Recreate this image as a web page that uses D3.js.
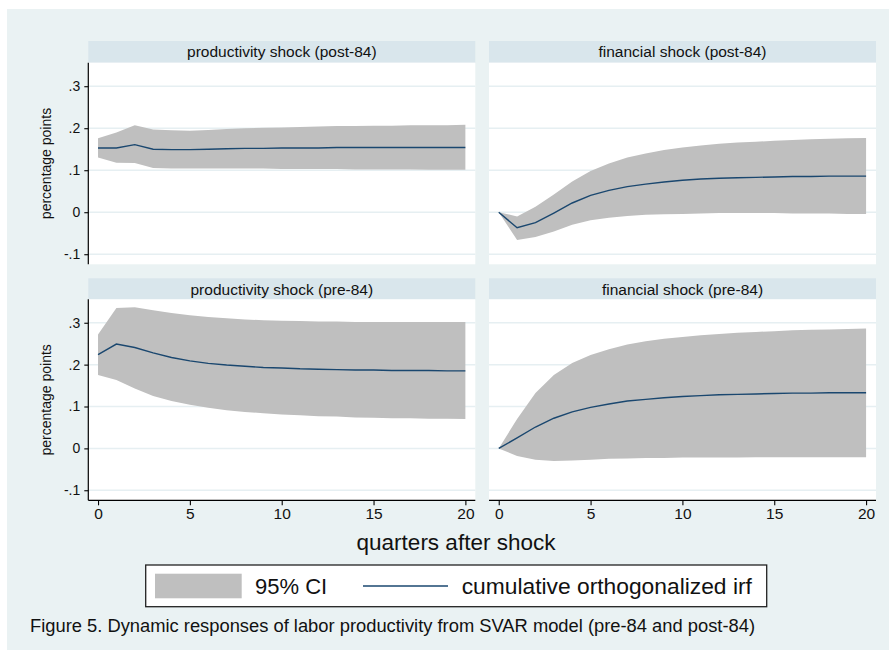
<!DOCTYPE html>
<html>
<head>
<meta charset="utf-8">
<script src="https://cdn.jsdelivr.net/npm/d3@7"></script>
<style>
  html, body { margin: 0; padding: 0; background: #ffffff; }
  svg { display: block; font-family: "Liberation Sans", Arial, sans-serif; }
</style>
</head>
<body>
<svg id="chart" width="896" height="658"></svg>
<script>
// ---------------- DATA ----------------
const quarters = [0,1,2,3,4,5,6,7,8,9,10,11,12,13,14,15,16,17,18,19,20];

const panelTitles = [
  "productivity shock (post-84)",
  "financial shock (post-84)",
  "productivity shock (pre-84)",
  "financial shock (pre-84)"
];

const prodPostIrf   = [0.153,0.153,0.161,0.150,0.149,0.149,0.150,0.151,0.152,0.152,0.153,0.153,0.153,0.154,0.154,0.154,0.154,0.154,0.154,0.154,0.154];
const prodPostUpper = [0.176,0.190,0.207,0.197,0.195,0.194,0.196,0.198,0.200,0.201,0.202,0.203,0.204,0.205,0.205,0.206,0.206,0.207,0.207,0.207,0.208];
const prodPostLower = [0.130,0.118,0.117,0.105,0.104,0.104,0.104,0.104,0.104,0.104,0.103,0.103,0.103,0.103,0.102,0.102,0.102,0.102,0.101,0.101,0.101];

const finPostIrf   = [0,-0.037,-0.025,-0.002,0.022,0.040,0.052,0.061,0.067,0.072,0.076,0.079,0.081,0.082,0.083,0.084,0.085,0.085,0.086,0.086,0.086];
const finPostUpper = [0,-0.010,0.013,0.042,0.073,0.098,0.116,0.130,0.140,0.148,0.154,0.159,0.163,0.166,0.168,0.170,0.172,0.174,0.175,0.176,0.177];
const finPostLower = [0,-0.066,-0.059,-0.046,-0.030,-0.019,-0.013,-0.009,-0.006,-0.005,-0.004,-0.003,-0.002,-0.002,-0.002,-0.002,-0.003,-0.003,-0.003,-0.004,-0.004];

const prodPreIrf   = [0.224,0.249,0.241,0.228,0.217,0.209,0.203,0.199,0.196,0.193,0.192,0.190,0.189,0.188,0.187,0.187,0.186,0.186,0.186,0.185,0.185];
const prodPreUpper = [0.272,0.335,0.337,0.330,0.323,0.318,0.314,0.311,0.308,0.306,0.305,0.304,0.303,0.303,0.302,0.302,0.302,0.302,0.302,0.302,0.302];
const prodPreLower = [0.175,0.163,0.143,0.125,0.113,0.104,0.097,0.091,0.087,0.084,0.081,0.079,0.077,0.076,0.074,0.073,0.072,0.072,0.071,0.071,0.070];

const finPreIrf   = [0,0.025,0.051,0.072,0.087,0.098,0.106,0.113,0.117,0.121,0.124,0.126,0.128,0.129,0.130,0.131,0.132,0.132,0.133,0.133,0.133];
const finPreUpper = [0,0.070,0.132,0.175,0.204,0.223,0.237,0.248,0.256,0.262,0.266,0.270,0.273,0.276,0.278,0.280,0.282,0.283,0.284,0.285,0.286];
const finPreLower = [0,-0.018,-0.027,-0.030,-0.029,-0.027,-0.025,-0.024,-0.023,-0.023,-0.022,-0.022,-0.022,-0.022,-0.021,-0.021,-0.021,-0.021,-0.021,-0.021,-0.021];

const yTickValues = [-0.1, 0, 0.1, 0.2, 0.3];
const yTickLabels = ["-.1", "0", ".1", ".2", ".3"];
const xTickValues = [0, 5, 10, 15, 20];

const xAxisTitle = "quarters after shock";
const yAxisTitle = "percentage points";
const legendLabels = ["95% CI", "cumulative orthogonalized irf"];
const caption = "Figure 5. Dynamic responses of labor productivity from SVAR model (pre-84 and post-84)";

// ---------------- STYLE / LAYOUT ----------------
const C = {
  bg: "#eaf2f3",
  strip: "#d9e6ec",
  grid: "#e6eff2",
  ci: "#bfbfbf",
  line: "#1a476f",
  text: "#000000"
};

const colX = [88.3, 489];
const colW = 387;
const rows = [
  { stripTop: 41,    plotTop: 62.7,  plotBottom: 264.3 },
  { stripTop: 278.3, plotTop: 299.3, plotBottom: 500.3 }
];

const panels = [
  { title: panelTitles[0], irf: prodPostIrf, up: prodPostUpper, lo: prodPostLower, col: 0, row: 0 },
  { title: panelTitles[1], irf: finPostIrf,  up: finPostUpper,  lo: finPostLower,  col: 1, row: 0 },
  { title: panelTitles[2], irf: prodPreIrf,  up: prodPreUpper,  lo: prodPreLower,  col: 0, row: 1 },
  { title: panelTitles[3], irf: finPreIrf,   up: finPreUpper,   lo: finPreLower,   col: 1, row: 1 }
];

const svg = d3.select("#chart");

// outer background
svg.append("rect").attr("x", 7).attr("y", 9).attr("width", 882).attr("height", 641).attr("fill", C.bg);

panels.forEach(p => {
  const x0 = colX[p.col];
  const r = rows[p.row];
  const g = svg.append("g");

  const x = d3.scaleLinear().domain([-0.53, 20.54]).range([x0, x0 + colW]);
  const y = d3.scaleLinear().domain([-0.124, 0.356]).range([r.plotBottom, r.plotTop]);

  // strip
  g.append("rect").attr("x", x0).attr("y", r.stripTop).attr("width", colW)
    .attr("height", r.plotTop - r.stripTop).attr("fill", C.strip);
  g.append("text").attr("x", x0 + colW / 2).attr("y", r.stripTop + 16.2)
    .attr("text-anchor", "middle").attr("font-size", 15.5).attr("fill", "#111")
    .text(p.title);

  // plot area
  g.append("rect").attr("x", x0).attr("y", r.plotTop).attr("width", colW)
    .attr("height", r.plotBottom - r.plotTop).attr("fill", "#ffffff");

  // gridlines
  g.selectAll(".grid").data(yTickValues).enter().append("line")
    .attr("x1", x0).attr("x2", x0 + colW)
    .attr("y1", d => y(d)).attr("y2", d => y(d))
    .attr("stroke", C.grid).attr("stroke-width", 1.5);

  const data = quarters.map((q, i) => ({ q, irf: p.irf[i], up: p.up[i], lo: p.lo[i] }));

  g.append("path").datum(data)
    .attr("d", d3.area().x(d => x(d.q)).y0(d => y(d.lo)).y1(d => y(d.up)))
    .attr("fill", C.ci);

  g.append("path").datum(data)
    .attr("d", d3.line().x(d => x(d.q)).y(d => y(d.irf)))
    .attr("fill", "none").attr("stroke", C.line).attr("stroke-width", 1.4);

  // y axis on left column
  if (p.col === 0) {
    const ya = d3.axisLeft(y).tickValues(yTickValues)
      .tickFormat((d, i) => yTickLabels[i]).tickSize(4).tickSizeOuter(0).tickPadding(4);
    const ag = g.append("g").attr("transform", `translate(${x0},0)`).call(ya);
    ag.select(".domain").attr("stroke", "#000").attr("stroke-width", 1.2)
      .attr("d", `M0,${r.plotTop}V${r.plotBottom}`);
    ag.selectAll(".tick line").attr("stroke", "#000").attr("stroke-width", 1.1);
    ag.selectAll(".tick text").attr("font-size", 14).attr("fill", "#111")
      .attr("font-family", "Liberation Sans, Arial, sans-serif");

    g.append("text")
      .attr("transform", `translate(51,${(r.plotTop + r.plotBottom) / 2}) rotate(-90)`)
      .attr("text-anchor", "middle").attr("font-size", 14).attr("fill", "#111")
      .text(yAxisTitle);
  }

  // x axis on bottom row
  if (p.row === 1) {
    const xa = d3.axisBottom(x).tickValues(xTickValues).tickSize(5).tickSizeOuter(0).tickPadding(3);
    const ag = g.append("g").attr("transform", `translate(0,${r.plotBottom})`).call(xa);
    ag.select(".domain").attr("stroke", "#000").attr("stroke-width", 1.2)
      .attr("d", `M${x0},0H${x0 + colW}`);
    ag.selectAll(".tick line").attr("stroke", "#000").attr("stroke-width", 1.1);
    ag.selectAll(".tick text").attr("font-size", 15.5).attr("fill", "#111")
      .attr("font-family", "Liberation Sans, Arial, sans-serif");
  }
});

// x axis title
svg.append("text").attr("x", 456).attr("y", 550).attr("text-anchor", "middle")
  .attr("font-size", 22.5).attr("fill", "#111").text(xAxisTitle);

// legend
const lg = svg.append("g");
lg.append("rect").attr("x", 145.7).attr("y", 565).attr("width", 621).attr("height", 41.7)
  .attr("fill", "#ffffff").attr("stroke", "#222").attr("stroke-width", 1.3);
lg.append("rect").attr("x", 155).attr("y", 573.7).attr("width", 86.7).attr("height", 24.6)
  .attr("fill", C.ci);
lg.append("text").attr("x", 255).attr("y", 594.3).attr("font-size", 22).attr("fill", "#111")
  .text(legendLabels[0]);
lg.append("line").attr("x1", 363).attr("x2", 448).attr("y1", 586).attr("y2", 586)
  .attr("stroke", C.line).attr("stroke-width", 1.5);
lg.append("text").attr("x", 461.7).attr("y", 594.3).attr("font-size", 22.8).attr("fill", "#111")
  .text(legendLabels[1]);

// caption
svg.append("text").attr("x", 30).attr("y", 632).attr("font-size", 17.5).attr("fill", "#111")
  .attr("textLength", 725).attr("lengthAdjust", "spacingAndGlyphs")
  .text(caption);
</script>
</body>
</html>
